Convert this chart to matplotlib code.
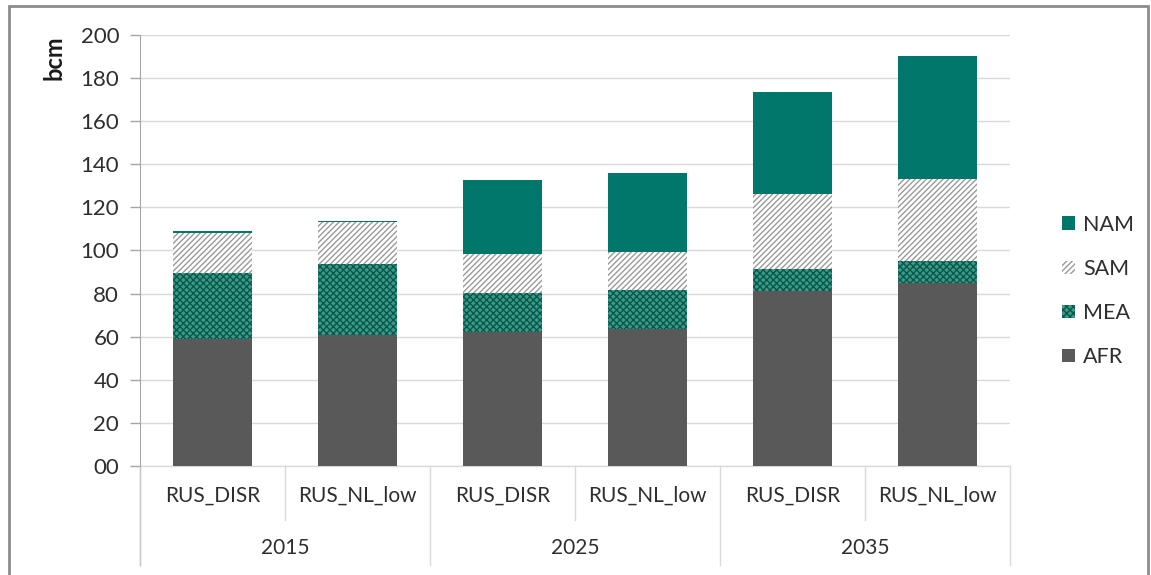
import matplotlib.pyplot as plt
import matplotlib.transforms as mtransforms
from matplotlib.patches import Rectangle, Patch
import numpy as np

plt.rcParams['font.family'] = ['Lato', 'DejaVu Sans']

# ====== データ ======
scenarios = ["RUS_DISR", "RUS_NL_low", "RUS_DISR", "RUS_NL_low", "RUS_DISR", "RUS_NL_low"]
years = ["2015", "2025", "2035"]
afr = [59.0, 60.8, 62.2, 63.6, 81.3, 84.8]
mea = [30.6, 32.9, 18.1, 18.1, 10.0, 10.5]
sam = [18.7, 19.5, 18.1, 17.6, 34.8, 37.7]
nam = [0.6, 0.6, 34.3, 36.7, 47.3, 57.3]
yticks = [0, 20, 40, 60, 80, 100, 120, 140, 160, 180, 200]
ytick_labels = ["00", "20", "40", "60", "80", "100", "120", "140", "160", "180", "200"]

TEAL = "#00776a"
GREY = "#595959"
TXT = "#2e2e2e"

fig = plt.figure(figsize=(11.51, 5.75), dpi=100)
ax = fig.add_axes([140 / 1151, 1 - 466 / 575, 870 / 1151, 431 / 575])

x = np.arange(len(scenarios))
w = 0.55
afr = np.array(afr)
mea = np.array(mea)
sam = np.array(sam)
nam = np.array(nam)

ax.bar(x, afr, w, color=GREY, linewidth=0, zorder=3)
ax.bar(x, mea, w, bottom=afr, facecolor="#3c9a88", edgecolor="#07574b",
       hatch="xxxxx", linewidth=0, zorder=3)
ax.bar(x, sam, w, bottom=afr + mea, facecolor="white", edgecolor="#9a9a9a",
       hatch="//////", linewidth=0, zorder=3)
ax.bar(x, nam, w, bottom=afr + mea + sam, color=TEAL, linewidth=0, zorder=3)

ax.set_xlim(-0.5, len(scenarios) - 0.5)
ax.set_ylim(0, 200)
ax.set_yticks(yticks)
ax.set_yticklabels(ytick_labels, fontsize=16, color=TXT)
ax.tick_params(axis="y", length=7, width=1, color="#a6a6a6", pad=8)
ax.set_xticks([])
ax.grid(axis="y", color="#d9d9d9", linewidth=1, zorder=0)
for s in ["top", "right", "bottom"]:
    ax.spines[s].set_visible(False)
ax.spines["left"].set_color("#a6a6a6")
ax.spines["left"].set_bounds(0, 200)

ax.text(-0.099, 0.948, "bcm", transform=ax.transAxes, rotation=90,
        fontsize=17, fontweight="bold", ha="center", va="center", color="#1a1a1a")

# カテゴリ軸（2段）
trans = mtransforms.blended_transform_factory(ax.transData, ax.transAxes)
ax.plot([-0.5, len(scenarios) - 0.5], [0, 0], transform=trans, color="#d9d9d9",
        linewidth=1, clip_on=False)
for i, lab in enumerate(scenarios):
    ax.text(i, -0.07, lab, transform=trans, ha="center", va="center",
            fontsize=15, color=TXT)
for j, yr in enumerate(years):
    ax.text(2 * j + 0.5, -0.19, yr, transform=trans, ha="center", va="center",
            fontsize=15, color=TXT)
    ax.plot([2 * j + 0.5, 2 * j + 0.5], [0, -0.125], transform=trans,
            color="#d9d9d9", linewidth=1, clip_on=False)
for b in [-0.5, 1.5, 3.5, 5.5]:
    ax.plot([b, b], [0, -0.23], transform=trans, color="#d9d9d9",
            linewidth=1, clip_on=False)
# y軸線は下まで伸ばす
ax.plot([-0.5, -0.5], [0, -0.23], transform=trans, color="#c8c8c8",
        linewidth=1, clip_on=False)

# 凡例
handles = [
    Patch(facecolor=TEAL, linewidth=0, label="NAM"),
    Patch(facecolor="white", edgecolor="#9a9a9a", hatch="//////", linewidth=0, label="SAM"),
    Patch(facecolor="#3c9a88", edgecolor="#07574b", hatch="xxxxx", linewidth=0, label="MEA"),
    Patch(facecolor=GREY, linewidth=0, label="AFR"),
]
fig.legend(handles=handles, loc="center left", bbox_to_anchor=(1043 / 1151, 1 - 291 / 575),
           frameon=False, fontsize=15.5, handlelength=0.6, handleheight=0.6,
           handletextpad=0.35, labelspacing=1.12, labelcolor=TXT)

# 外枠
fig.patches.append(Rectangle((9 / 1151, -0.05), 1139 / 1151, 1.05 - 6 / 575,
                             transform=fig.transFigure, fill=False,
                             edgecolor="#8c8c8c", linewidth=2))

fig.savefig("out.png", dpi=100)
